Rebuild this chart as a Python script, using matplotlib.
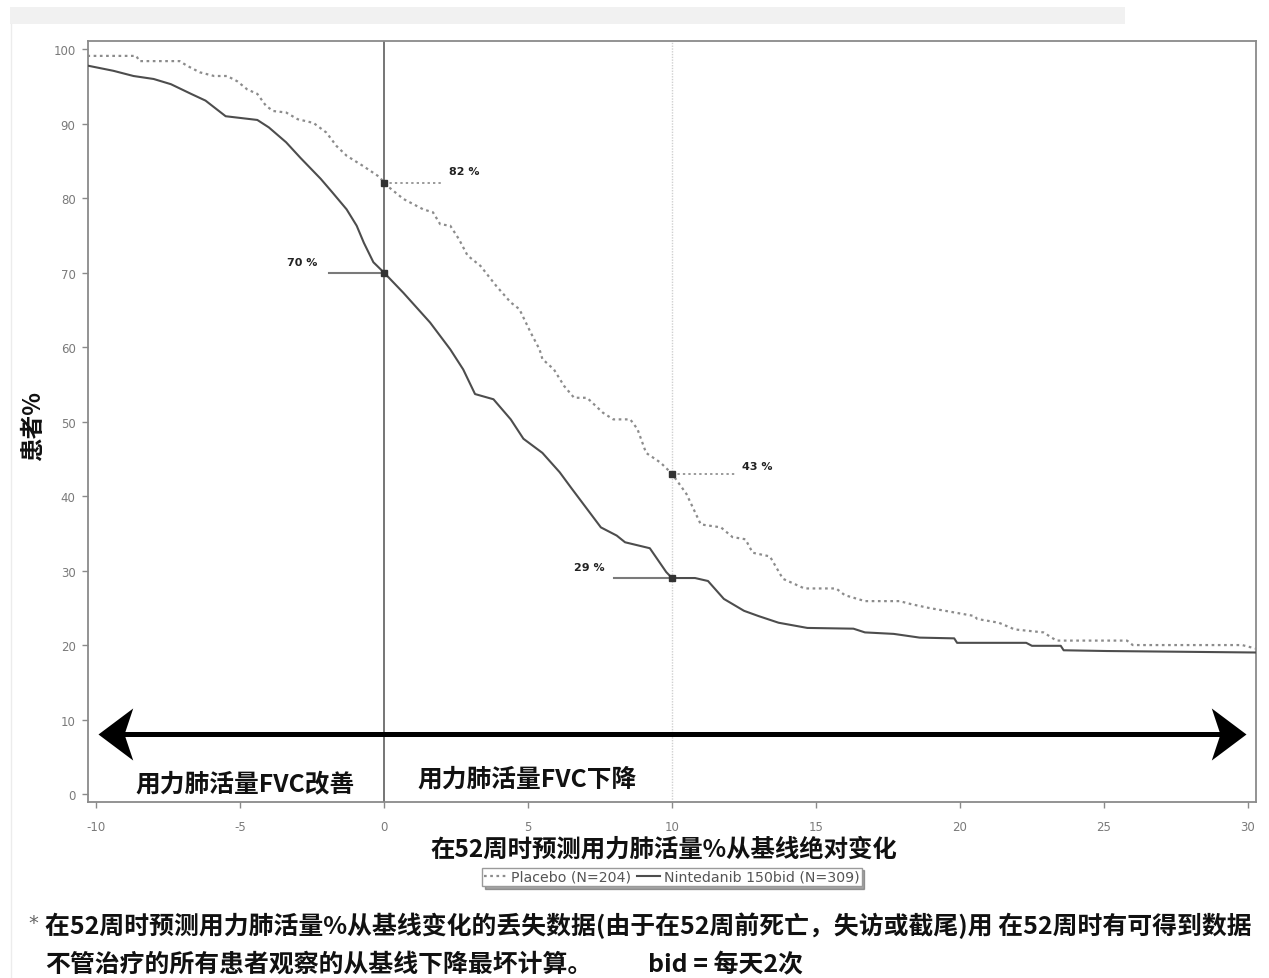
import matplotlib
matplotlib.use("Agg")
import matplotlib.pyplot as plt
from matplotlib.path import Path
from matplotlib.patches import Rectangle
from matplotlib.lines import Line2D

plt.rcParams['font.family'] = ['Noto Sans CJK SC', 'DejaVu Sans']

# Cumulative distribution of change from baseline in FVC % predicted at week 52
placebo_x = [-10.3, -8.6, -8.5, -7.1, -6.85, -6.4, -5.9, -5.45, -5.1, -4.75, -4.4, -4.1,
             -3.85, -3.4, -3.0, -2.45, -2.0, -1.65, -1.3, -0.72, -0.14, 0.0, 0.67, 1.36,
             1.7, 1.95, 2.3, 2.6, 2.9, 3.35, 3.9, 4.4, 4.7, 5.1, 5.4, 5.5, 5.9, 6.25, 6.6,
             7.05, 7.6, 7.96, 8.55, 8.8, 9.1, 9.6, 10.0, 10.5, 11.0, 11.7, 12.1, 12.55,
             12.8, 13.4, 13.85, 14.6, 15.7, 16.0, 16.7, 17.9, 18.3, 18.9, 20.5, 20.6,
             21.35, 21.9, 22.9, 23.35, 25.8, 26.0, 29.8, 30.3]
placebo_y = [99.1, 99.1, 98.4, 98.4, 97.8, 96.9, 96.4, 96.4, 95.7, 94.6, 94.0, 92.4,
             91.7, 91.5, 90.6, 90.1, 88.8, 87.0, 85.7, 84.3, 82.8, 82.0, 79.9, 78.5,
             78.1, 76.5, 76.3, 74.5, 72.3, 70.9, 68.2, 66.0, 65.1, 61.9, 59.7, 58.4, 57.0,
             54.8, 53.2, 53.2, 51.2, 50.3, 50.3, 49.0, 45.8, 44.5, 43.0, 40.3, 36.2, 35.8,
             34.5, 34.2, 32.4, 31.9, 28.9, 27.6, 27.6, 26.7, 25.9, 25.9, 25.5, 25.0, 23.9,
             23.5, 23.0, 22.1, 21.7, 20.6, 20.6, 20.0, 20.0, 19.5]

nintedanib_x = [-10.3, -9.4, -8.7, -8.0, -7.4, -6.7, -6.2, -5.5, -4.4, -4.0, -3.4, -2.9,
                -2.2, -1.8, -1.3, -0.95, -0.7, -0.37, 0.0, 0.67, 1.6, 2.3, 2.75, 3.16, 3.8,
                4.4, 4.84, 5.5, 6.1, 6.5, 7.53, 8.08, 8.37, 9.23, 9.8, 10.0, 10.8, 11.25,
                11.8, 12.5, 13.0, 13.7, 14.7, 16.3, 16.7, 17.7, 18.6, 19.8, 19.9, 22.3,
                22.5, 23.5, 23.6, 25.1, 30.3]
nintedanib_y = [97.8, 97.1, 96.4, 96.0, 95.3, 94.0, 93.1, 91.0, 90.5, 89.5, 87.5, 85.4,
                82.6, 80.8, 78.5, 76.3, 74.0, 71.4, 70.0, 67.3, 63.3, 59.7, 57.0, 53.7, 53.0,
                50.3, 47.7, 45.8, 43.2, 41.1, 35.8, 34.7, 33.8, 33.0, 29.8, 29.0, 29.0, 28.6,
                26.2, 24.6, 23.9, 23.0, 22.3, 22.2, 21.7, 21.5, 21.0, 20.9, 20.3, 20.3,
                19.9, 19.9, 19.3, 19.2, 19.0]

series_labels = ['Placebo (N=204)', 'Nintedanib 150bid (N=309)']

# Highlighted values: (x, percent)
placebo_marks = [(0, 82), (10, 43)]
nintedanib_marks = [(0, 70), (10, 29)]

x_ticks = [-10, -5, 0, 5, 10, 15, 20, 25, 30]
y_ticks = [0, 10, 20, 30, 40, 50, 60, 70, 80, 90, 100]

x_label = '在52周时预测用力肺活量%从基线绝对变化'
y_label = '患者%'
left_region = '用力肺活量FVC改善'
right_region = '用力肺活量FVC下降'
footnote_1 = '在52周时预测用力肺活量%从基线变化的丢失数据(由于在52周前死亡，失访或截尾)用 在52周时有可得到数据'
footnote_2 = '不管治疗的所有患者观察的从基线下降最坏计算。'
footnote_bid = 'bid = 每天2次'

fig = plt.figure(figsize=(12.69, 9.79), dpi=100)
fig.patch.set_facecolor('white')

# light page band at the top and faint page edge
fig.patches.append(Rectangle((10 / 1269, 1 - 25 / 979), 1115 / 1269, 17 / 979,
                             transform=fig.transFigure, facecolor='#f1f1f1',
                             edgecolor='none', zorder=0))
fig.lines.append(Line2D([11 / 1269, 11 / 1269], [0, 1 - 25 / 979],
                        transform=fig.transFigure, color='#ececec', lw=1.0))

ax = fig.add_axes([88 / 1269, 1 - 803 / 979, 1168 / 1269, 761 / 979])
ax.set_xlim(-10.28, 30.28)
ax.set_ylim(-1.07, 101.1)

grey = '#8a8a8a'
for s in ax.spines.values():
    s.set_color(grey)
    s.set_linewidth(1.3)

ax.set_xticks(x_ticks)
ax.set_yticks(y_ticks)
ax.set_xticklabels([str(t) for t in x_ticks], fontfamily='DejaVu Sans')
ax.set_yticklabels([str(t) for t in y_ticks], fontfamily='DejaVu Sans')
ax.tick_params(axis='both', direction='out', length=4, width=1.0, color=grey,
               labelcolor='#7a7a7a', labelsize=8.5)
ax.tick_params(axis='x', pad=9)
ax.tick_params(axis='y', pad=5)

# reference lines at 0 and 10
ax.axvline(0, color='#6a6a6a', lw=1.3, zorder=1)
ax.axvline(10, color='#d0d0d0', lw=1.0, ls=(0, (1, 1)), zorder=1)

pl_line, = ax.plot(placebo_x, placebo_y, color='#8c8c8c', lw=1.6,
                   ls=(0, (1.2, 1.6)), label=series_labels[0], zorder=3)
nt_line, = ax.plot(nintedanib_x, nintedanib_y, color='#4d4d4d', lw=1.5,
                   label=series_labels[1], zorder=3)

# annotated values with leader lines
for (xv, yv), dx, tx, ty in zip(placebo_marks, [2.0, 2.2], [2.8, 12.95], [1.6, 1.0]):
    ax.plot([xv, xv + dx], [yv, yv], color='#9a9a9a', lw=1.4, ls=(0, (1.2, 1.6)), zorder=3)
    ax.plot([xv], [yv], marker='s', ms=4, color='#333333', zorder=4)
    ax.text(tx, yv + ty, f'{yv} %', ha='center', va='center', fontsize=8,
            fontweight='bold', color='#222222', fontfamily='DejaVu Sans')
for (xv, yv), dx, tx, ty in zip(nintedanib_marks, [1.9, 2.0], [-2.85, 7.12], [1.4, 1.5]):
    ax.plot([xv - dx, xv], [yv, yv], color='#7a7a7a', lw=1.5, zorder=3)
    ax.plot([xv], [yv], marker='s', ms=4, color='#333333', zorder=4)
    ax.text(tx, yv + ty, f'{yv} %', ha='center', va='center', fontsize=8,
            fontweight='bold', color='#222222', fontfamily='DejaVu Sans')

# double-headed direction arrow
arrow_y = 8.0
ax.plot([-9.5, 29.5], [arrow_y, arrow_y], color='black', lw=3.6,
        solid_capstyle='butt', zorder=5)
head_left = Path([(0, 0), (28, 21), (21, 0), (28, -21), (0, 0)],
                 [Path.MOVETO, Path.LINETO, Path.LINETO, Path.LINETO, Path.CLOSEPOLY])
head_right = Path([(0, 0), (-28, 21), (-21, 0), (-28, -21), (0, 0)],
                  [Path.MOVETO, Path.LINETO, Path.LINETO, Path.LINETO, Path.CLOSEPOLY])
ax.plot([-9.95], [arrow_y], marker=head_left, ms=50, color='black', mew=0, zorder=6)
ax.plot([29.95], [arrow_y], marker=head_right, ms=50, color='black', mew=0, zorder=6)

ax.text(-4.83, 1.4, left_region, ha='center', va='center', fontsize=17.8,
        fontweight='bold', color='#111111')
ax.text(4.97, 2.1, right_region, ha='center', va='center', fontsize=17.8,
        fontweight='bold', color='#111111')

ax.set_xlabel(x_label, fontsize=17.6, fontweight='bold', color='#111111', labelpad=2)
ax.xaxis.set_label_coords(0.493, -0.046)
ax.set_ylabel(y_label, fontsize=17, fontweight='bold', color='#111111')
ax.yaxis.set_label_coords(-0.037, 0.495)

leg = ax.legend(handles=[pl_line, nt_line], loc='upper center',
                bbox_to_anchor=(0.5, -0.077), ncol=2, frameon=True, shadow=True,
                handlelength=1.6, handletextpad=0.3, columnspacing=0.4,
                borderpad=0.15, fancybox=False, prop={'family': 'DejaVu Sans', 'size': 10.2})
leg.get_frame().set_edgecolor('#9a9a9a')
leg.get_frame().set_linewidth(1.0)
for t in leg.get_texts():
    t.set_color('#555555')

# footnote
fig.text(28 / 1269, 1 - 923 / 979, '*', fontsize=14, color='#666666',
         ha='left', va='center', fontfamily='DejaVu Sans')
fig.text(45 / 1269, 1 - 926 / 979, footnote_1, fontsize=17.9, fontweight='bold',
         color='#111111', ha='left', va='center')
fig.text(45 / 1269, 1 - 965 / 979, footnote_2, fontsize=17.9, fontweight='bold',
         color='#111111', ha='left', va='center')
fig.text(648 / 1269, 1 - 965 / 979, footnote_bid, fontsize=17.9, fontweight='bold',
         color='#111111', ha='left', va='center')

fig.savefig('out.png', dpi=100, facecolor='white')
